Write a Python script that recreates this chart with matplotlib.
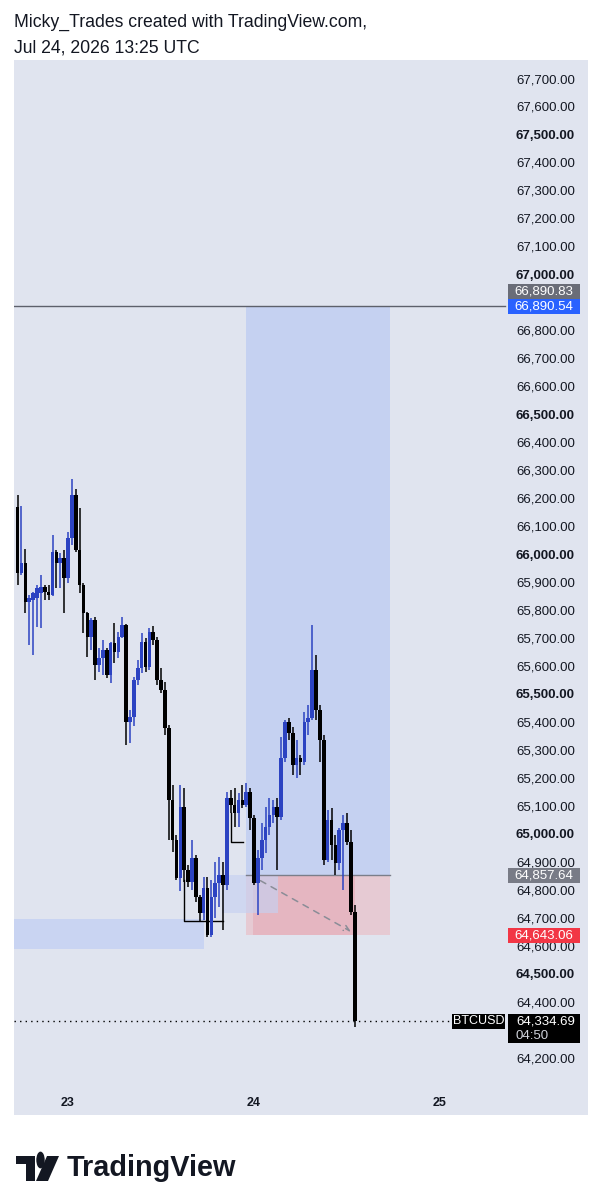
import pandas as pd
import matplotlib
matplotlib.use('Agg')
import matplotlib.pyplot as plt
import matplotlib.dates as mdates
from matplotlib.patches import Rectangle, Polygon, Circle
from matplotlib.transforms import blended_transform_factory

plt.rcParams['font.family'] = ['Liberation Sans', 'DejaVu Sans']

# 30 min BTCUSD candles, Jul 22 17:30 -> Jul 24 13:00 UTC
opens = [66173, 65937, 65973, 65833, 65841, 65848, 65866, 65887, 65869, 65858,
         66012, 65973, 65991, 65919, 66062, 66216, 66019, 65894, 65794, 65708,
         65769, 65609, 65634, 65662, 65573, 65687, 65655, 65708, 65751, 65405,
         65423, 65555, 65598, 65691, 65602, 65727, 65698, 65555, 65519, 65384,
         65126, 64983, 64848, 65101, 64876, 64833, 64919, 64779, 64722, 64811,
         64643, 64779, 64829, 64858, 64822, 65133, 65108, 65080, 65126, 65108,
         65155, 65062, 64829, 64919, 64983, 65030, 65073, 65101, 65065, 65276,
         65405, 65366, 65251, 65276, 65262, 65405, 65419, 65591, 65448, 65341,
         64912, 65055, 64965, 64901, 65019, 65044, 64976, 64726]
highs = [66216, 66177, 66023, 65858, 65869, 65894, 65930, 65894, 65894, 66073,
         66019, 66009, 66019, 66084, 66273, 66237, 66169, 65901, 65798, 65776,
         65780, 65669, 65698, 65669, 65691, 65759, 65726, 65780, 65757, 65448,
         65566, 65627, 65723, 65705, 65741, 65748, 65709, 65598, 65548, 65394,
         65180, 65001, 65180, 65169, 64894, 64983, 64930, 64786, 64851, 64851,
         64840, 64904, 64922, 64904, 65155, 65162, 65169, 65151, 65180, 65187,
         65169, 65073, 64947, 65044, 65101, 65133, 65126, 65133, 65351, 65412,
         65419, 65387, 65341, 65287, 65441, 65466, 65750, 65644, 65466, 65359,
         65090, 65097, 65001, 65026, 65073, 65080, 65019, 64751]
lows = [65894, 65930, 65794, 65680, 65644, 65744, 65740, 65841, 65841, 65855,
        65883, 65883, 65794, 65901, 66037, 66012, 65866, 65723, 65637, 65662,
        65555, 65584, 65573, 65562, 65544, 65616, 65634, 65705, 65323, 65330,
        65391, 65537, 65580, 65584, 65591, 65680, 65537, 65509, 65359, 64983,
        64940, 64840, 64801, 64833, 64815, 64804, 64761, 64693, 64697, 64636,
        64636, 64706, 64743, 64661, 64804, 65080, 65030, 65030, 65097, 65101,
        65019, 64822, 64715, 64876, 64937, 65001, 65044, 64876, 65055, 65262,
        65341, 65216, 65205, 65216, 65251, 65359, 65412, 65412, 65262, 64894,
        64904, 64912, 64858, 64876, 64804, 64965, 64715, 64315]
closes = [65937, 65973, 65833, 65848, 65866, 65883, 65887, 65869, 65858, 66012,
          65973, 65991, 65919, 66062, 66216, 66019, 65894, 65794, 65708, 65769,
          65609, 65634, 65662, 65573, 65687, 65655, 65708, 65751, 65405, 65423,
          65555, 65598, 65691, 65602, 65727, 65698, 65555, 65519, 65384, 65126,
          64983, 64848, 65101, 64876, 64833, 64919, 64779, 64722, 64811, 64643,
          64779, 64829, 64858, 64822, 65133, 65108, 65080, 65126, 65108, 65155,
          65062, 64829, 64919, 64983, 65030, 65073, 65101, 65065, 65276, 65405,
          65366, 65251, 65276, 65262, 65405, 65419, 65591, 65448, 65341, 64912,
          65055, 64965, 64901, 65019, 65044, 64976, 64726, 64334.69]

entry_price = 64857.64
target_price = 66890.54
stop_price = 64643.06
hline_price = 66890.83
last_price = 64334.69
day_labels = ['23', '24', '25']
# scale labels (66,900 and 64,300 sit under the price tags)
price_ticks = [p for p in range(64200, 67800, 100) if p not in (66900, 64300)]

times = pd.date_range('2026-07-22 17:30', periods=len(opens), freq='30min')
x = mdates.date2num(times)
day0 = mdates.date2num(pd.Timestamp('2026-07-23'))
PXD = 186.0          # pixels per day
PXP = 0.2797         # pixels per dollar


def px2day(px):
    return day0 + (px - 68) / PXD


bg = '#E0E4EF'
up_c = '#2C43C2'
dn_c = '#000000'

fig = plt.figure(figsize=(6.01, 11.99), dpi=100)
fig.patch.set_facecolor('white')
ax = fig.add_axes([14 / 601, 84 / 1199, 574 / 601, 1055 / 1199])
ax.set_facecolor(bg)
for s in ax.spines.values():
    s.set_visible(False)
ax.set_xticks([])
ax.set_yticks([])
ax.set_xlim(px2day(14), px2day(588))
ax.set_ylim(64000, 67771.5)

AXR = (505 - 14) / 574   # right edge of plotting region in axes fraction
tr = blended_transform_factory(ax.transAxes, ax.transData)

# zones
t_start, t_end = px2day(246), px2day(390)
ax.add_patch(Rectangle((t_start, entry_price), t_end - t_start, target_price - entry_price,
                       fc='#C5D1F1', ec='none', zorder=1))
ax.add_patch(Rectangle((t_start, stop_price), t_end - t_start, entry_price - stop_price,
                       fc='#E6CAD3', ec='none', zorder=1))
ax.add_patch(Rectangle((px2day(253), stop_price), x[-1] - px2day(253), entry_price - stop_price,
                       fc='#E5B6C1', ec='none', zorder=1))
ax.plot([t_start, t_end], [entry_price, entry_price], color='#7B7E8A', lw=1, zorder=2)
ax.add_patch(Rectangle((px2day(14), 64593), px2day(204) - px2day(14), 108,
                       fc='#C9D4F2', ec='none', zorder=1))
ax.add_patch(Rectangle((px2day(222), 64722), px2day(278) - px2day(222), 136,
                       fc='#C6D1F2', ec='none', alpha=0.65, zorder=1.5))

# target horizontal line
ax.plot([0, AXR], [target_price, target_price], color='#5D606B', lw=1, transform=tr, zorder=2)

# drawn brackets
ax.plot([px2day(184), px2day(184), px2day(223)], [64840, 64693, 64693], color='black', lw=1, zorder=2)
ax.plot([px2day(231), px2day(231), px2day(243)], [65080, 64975, 64975], color='black', lw=1, zorder=2)

# candles
w = 3.6 / PXD
for xi, o, h, l, c in zip(x, opens, highs, lows, closes):
    col = up_c if c >= o else dn_c
    ax.plot([xi, xi], [l, h], color=col, lw=1.1, zorder=3, solid_capstyle='butt')
    bot = min(o, c)
    hgt = max(abs(c - o), 5)
    ax.add_patch(Rectangle((xi - w / 2, bot), w, hgt, fc=col, ec='none', zorder=3))

# dashed arrow from entry to current
ax.annotate('', xy=(x[-1] - 1.5 / PXD, stop_price + 8), xytext=(px2day(258), entry_price - 15),
            arrowprops=dict(arrowstyle='->', color='#8A8D97', lw=1.1, linestyle=(0, (4, 4)),
                            mutation_scale=10), zorder=2.5)

# last price dotted line
ax.plot([0, (452 - 14) / 574], [last_price, last_price], color='black', lw=1,
        linestyle=(0, (1, 3)), transform=tr, zorder=2)

# price scale labels
for p in price_ticks:
    ax.text((516 - 14) / 574, p, f'{p:,.2f}', transform=tr, ha='left', va='center',
            fontsize=9.5, color='#131722', fontweight='bold' if p % 500 == 0 else 'normal', zorder=4)

bx0 = (508 - 14) / 574
bw = 72 / 574
hpx = 15 / PXP


def tag(price, text, fc, tc='white', shift=0):
    yc = price + shift * hpx
    ax.add_patch(Rectangle((bx0, yc - hpx / 2), bw, hpx, fc=fc, ec='none',
                           transform=tr, zorder=6))
    ax.text(bx0 + bw / 2, yc, text, transform=tr, ha='center', va='center',
            fontsize=9.5, color=tc, zorder=7)


tag(target_price, f'{hline_price:,.2f}', '#6A6D78', shift=1)
tag(target_price, f'{target_price:,.2f}', '#2962FF')
tag(entry_price, f'{entry_price:,.2f}', '#787B86')
tag(stop_price, f'{stop_price:,.2f}', '#F23645')

# current price box
ax.add_patch(Rectangle((bx0, last_price - 22 / PXP), bw, 29 / PXP, fc='black', ec='none',
                       transform=tr, zorder=6))
ax.text(bx0 + 8 / 574, last_price, f'{last_price:,.2f}', transform=tr, ha='left', va='center',
        fontsize=9.5, color='white', zorder=7)
ax.text(bx0 + 8 / 574, last_price - 15 / PXP, '04:50', transform=tr, ha='left', va='center',
        fontsize=9.5, color='#D0D3DB', zorder=7)
ax.add_patch(Rectangle(((452 - 14) / 574, last_price - 7.5 / PXP), 53 / 574, 15 / PXP,
                       fc='black', ec='none', transform=tr, zorder=6))
ax.text((478.5 - 14) / 574, last_price, 'BTCUSD', transform=tr, ha='center', va='center',
        fontsize=9, color='white', zorder=7)

# date labels
for lab in day_labels:
    xd = day0 + (int(lab) - 23)
    ax.text(xd, (1115 - 1103) / 1055, lab, transform=blended_transform_factory(ax.transData, ax.transAxes),
            ha='center', va='center', fontsize=9, fontweight='bold', color='#131722')

# header
fig.text(14 / 601, 1 - 22 / 1199, 'Micky_Trades created with TradingView.com,', fontsize=12.7,
         color='#131722', va='center', ha='left')
fig.text(14 / 601, 1 - 48 / 1199, 'Jul 24, 2026 13:25 UTC', fontsize=12.7,
         color='#131722', va='center', ha='left')

# TradingView logo
def fp(px, py):
    return (px / 601, 1 - py / 1199)


fig.patches.append(Polygon([fp(16, 1156), fp(35, 1156), fp(35, 1181), fp(26, 1181),
                            fp(26, 1164), fp(16, 1164)], closed=True, fc='#131722', ec='none',
                           transform=fig.transFigure))
fig.patches.append(Circle(fp(40.5, 1160), 4.2 / 601, fc='#131722', ec='none',
                          transform=fig.transFigure))
fig.patches.append(Polygon([fp(47, 1156), fp(59, 1156), fp(48, 1181), fp(36, 1181)],
                           closed=True, fc='#131722', ec='none', transform=fig.transFigure))
fig.text(67 / 601, 1 - 1168 / 1199, 'TradingView', fontsize=20.8, fontweight='bold',
         color='#131722', va='center', ha='left')

fig.savefig('out.png', dpi=100, facecolor='white')
